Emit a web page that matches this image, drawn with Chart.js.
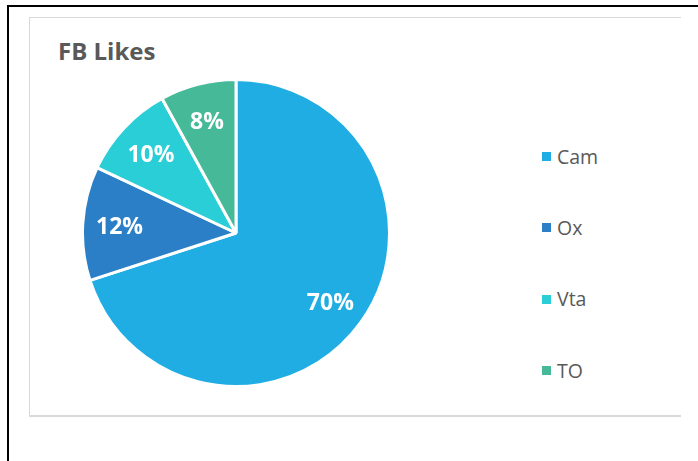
<!DOCTYPE html>
<html>
<head>
<meta charset="utf-8">
<script src="https://cdn.jsdelivr.net/npm/chart.js@4/dist/chart.umd.min.js"></script>
<style>
    html, body { margin: 0; padding: 0; background: #fff; }
    body { width: 698px; height: 461px; position: relative; overflow: hidden; font-family: "Open Sans", sans-serif; }
    .frame { position: absolute; left: 7px; top: 5px; width: 700px; height: 470px; border-top: 2px solid #000; border-left: 2px solid #000; }
    .box { position: absolute; left: 29px; top: 17px; width: 651px; height: 397px; border-top: 1px solid #d9d9d9; border-left: 1px solid #d9d9d9; border-bottom: 2px solid #d9d9d9; }
    .title { position: absolute; left: 58px; top: 39px; font-size: 24px; line-height: 24px; font-weight: 700; color: #595959; white-space: nowrap; }
    #pie { position: absolute; left: 81px; top: 78px; }
    .legend { position: absolute; left: 542px; top: 121px; }
    .legend .item { height: 71.3px; display: flex; align-items: center; font-size: 19.5px; line-height: 19.5px; color: #595959; }
    .legend .swatch { width: 9px; height: 9px; margin-right: 6px; flex: none; }
</style>
</head>
<body>
<div class="frame"></div>
<div class="box"></div>
<div class="title" id="title"></div>
<canvas id="pie" width="310" height="310"></canvas>
<div class="legend" id="legend"></div>
<script>
// --- data ---
const chartTitle = 'FB Likes';
const categories = ['Cam', 'Ox', 'Vta', 'TO'];
const likeShares = [70, 12, 10, 8];
const sliceColors = ['#1fade3', '#2a7fc6', '#2aced6', '#45b998'];

const total = likeShares.reduce((a, b) => a + b, 0);

// percent labels drawn on top of each slice
const sliceLabels = {
    id: 'sliceLabels',
    afterDatasetsDraw(chart) {
        const ctx = chart.ctx;
        const meta = chart.getDatasetMeta(0);
        ctx.save();
        ctx.font = '700 23px "Open Sans"';
        ctx.fillStyle = '#ffffff';
        ctx.textAlign = 'center';
        ctx.textBaseline = 'middle';
        meta.data.forEach((arc, i) => {
            const p = arc.getProps(['x', 'y', 'startAngle', 'endAngle', 'outerRadius'], true);
            const mid = (p.startAngle + p.endAngle) / 2;
            const r = p.outerRadius * 0.76;
            const pct = Math.round(likeShares[i] / total * 100) + '%';
            ctx.fillText(pct, p.x + Math.cos(mid) * r, p.y + Math.sin(mid) * r + 2);
        });
        ctx.restore();
    }
};

new Chart(document.getElementById('pie'), {
    type: 'pie',
    data: {
        labels: categories,
        datasets: [{
            data: likeShares,
            backgroundColor: sliceColors,
            borderColor: '#ffffff',
            borderWidth: 3
        }]
    },
    options: {
        responsive: false,
        animation: false,
        layout: { padding: 0 },
        plugins: {
            legend: { display: false },
            tooltip: { enabled: false },
            title: { display: false }
        }
    },
    plugins: [sliceLabels]
});

// title + legend as text
document.getElementById('title').textContent = chartTitle;
const legendEl = document.getElementById('legend');
categories.forEach((name, i) => {
    const item = document.createElement('div');
    item.className = 'item';
    const sw = document.createElement('span');
    sw.className = 'swatch';
    sw.style.background = sliceColors[i];
    const txt = document.createElement('span');
    txt.textContent = name;
    item.appendChild(sw);
    item.appendChild(txt);
    legendEl.appendChild(item);
});
</script>
</body>
</html>
